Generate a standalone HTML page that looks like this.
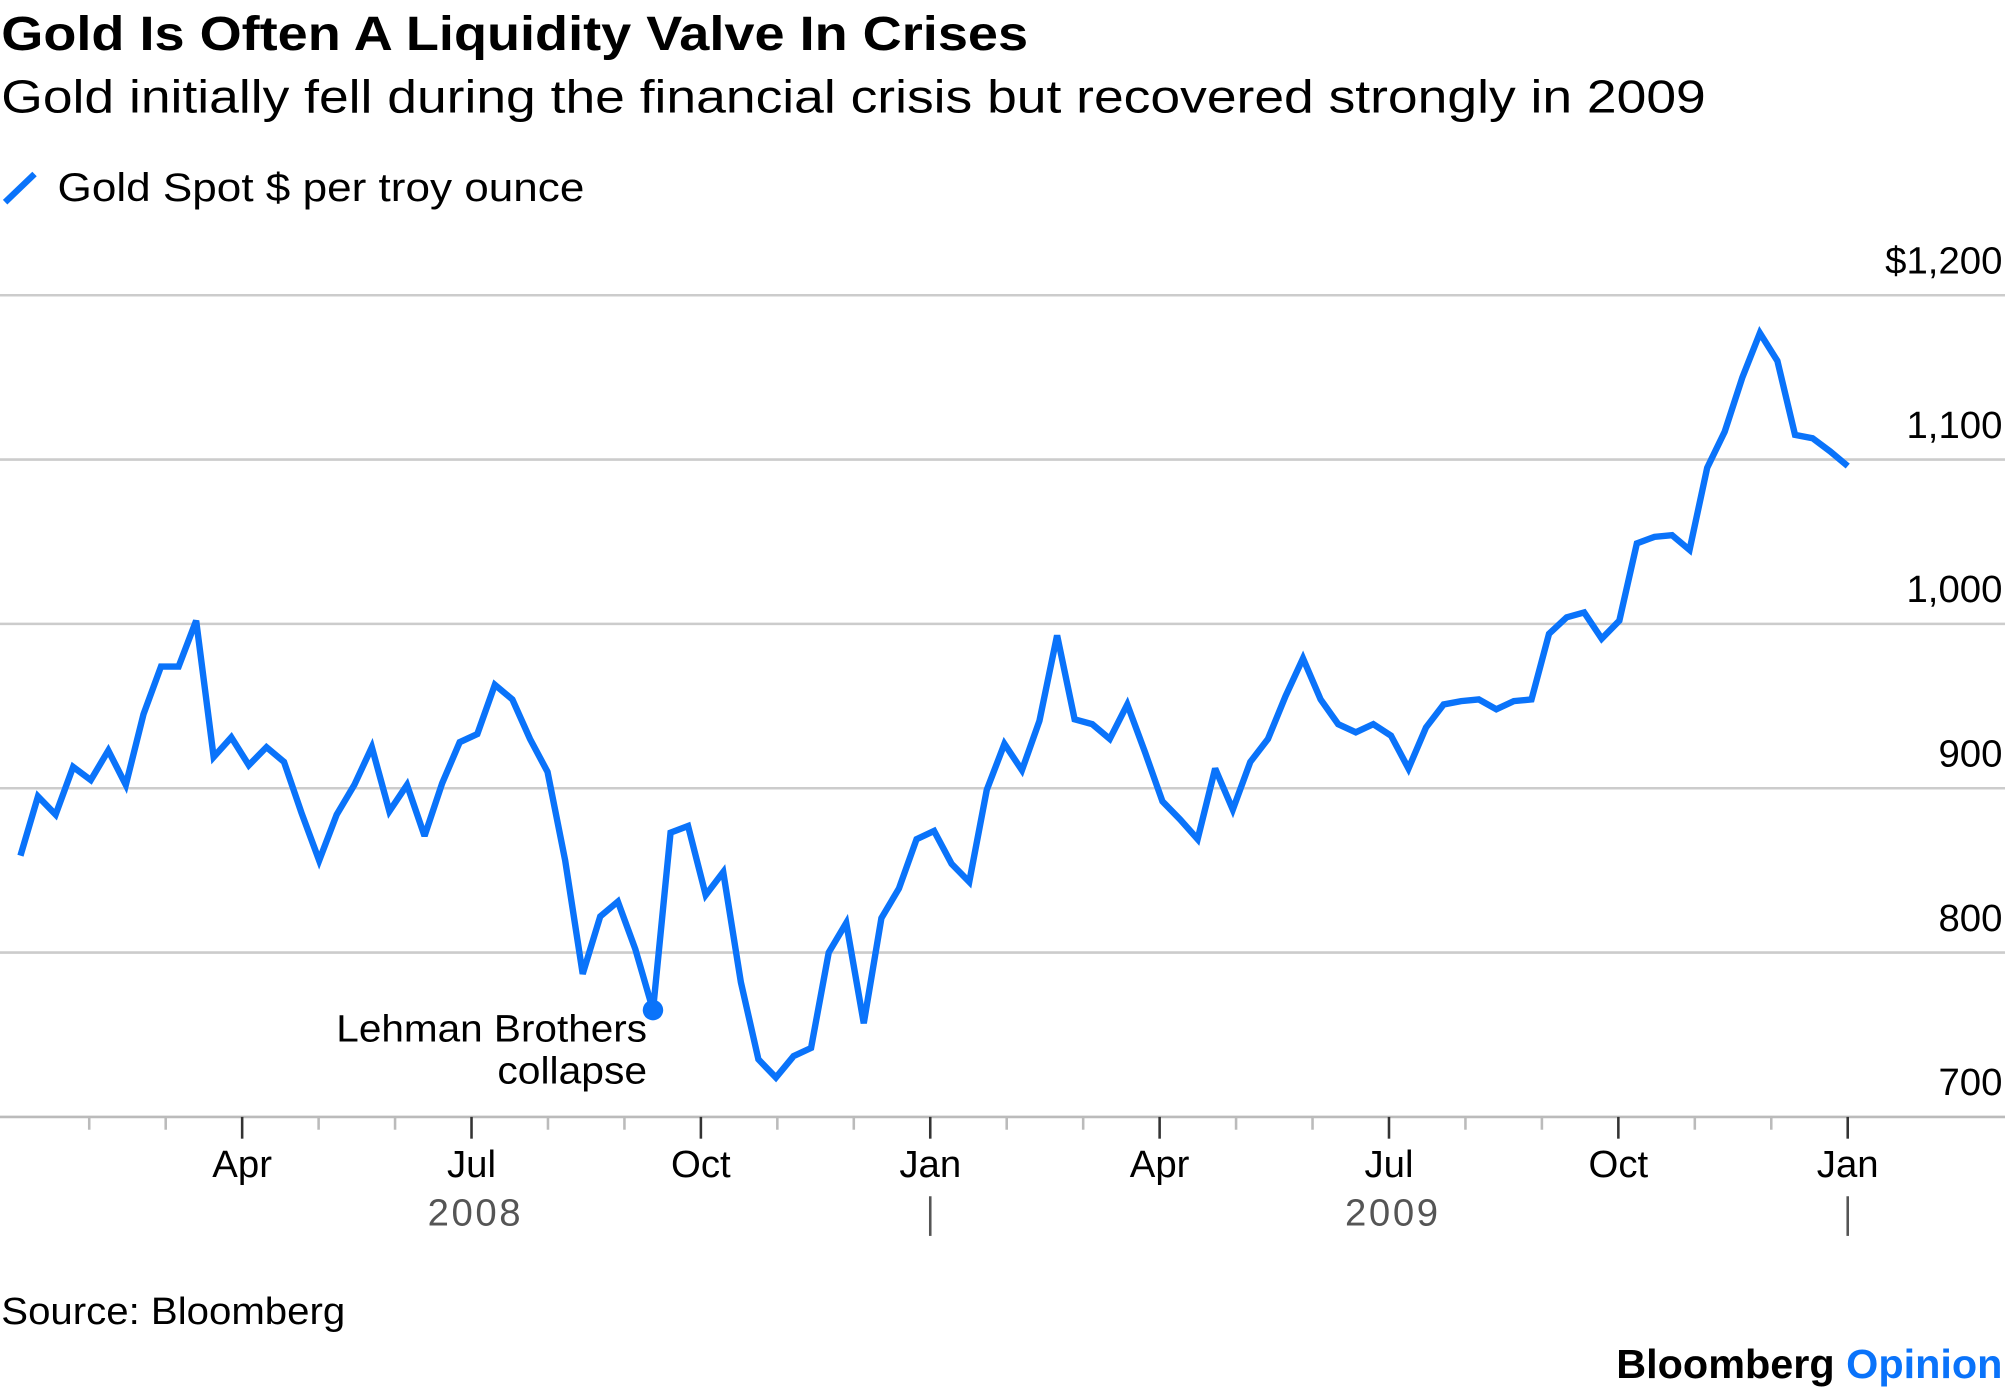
<!DOCTYPE html>
<html><head><meta charset="utf-8"><title>Gold Is Often A Liquidity Valve In Crises</title>
<style>html,body{margin:0;padding:0;background:#fff;}svg{display:block;font-family:"Liberation Sans",sans-serif;}</style>
</head><body>
<svg id="chart" width="2005" height="1392" viewBox="0 0 1568 1088" preserveAspectRatio="none" xmlns="http://www.w3.org/2000/svg">
<text x="1" y="39" font-size="38" font-weight="bold" fill="#000" textLength="803" lengthAdjust="spacingAndGlyphs">Gold Is Often A Liquidity Valve In Crises</text>
<text x="1" y="88" font-size="36" fill="#000" textLength="1333" lengthAdjust="spacingAndGlyphs">Gold initially fell during the financial crisis but recovered strongly in 2009</text>
<g>
<line x1="4" y1="158" x2="27" y2="136" stroke="#0a73fa" stroke-width="5"/>
<text x="45" y="157" font-size="31" fill="#000" textLength="412" lengthAdjust="spacingAndGlyphs">Gold Spot $ per troy ounce</text>
</g>
<g id="grid"></g>
<g id="yaxis"></g>
<g id="xaxis"></g>
<g id="series"></g>
<text x="506" y="814" font-size="30" text-anchor="end" fill="#000" textLength="243" lengthAdjust="spacingAndGlyphs">Lehman Brothers</text>
<text x="506" y="847" font-size="30" text-anchor="end" fill="#000" textLength="117" lengthAdjust="spacingAndGlyphs">collapse</text>
<text x="1" y="1035" font-size="30" fill="#000" textLength="269" lengthAdjust="spacingAndGlyphs">Source: Bloomberg</text>
<text x="1566" y="1077" font-size="32" text-anchor="end" font-weight="bold" fill="#000" textLength="302" lengthAdjust="spacingAndGlyphs">Bloomberg <tspan fill="#0a73fa">Opinion</tspan></text>
</svg>
<script>
const prices = [859,895,884,913,905,923,902,945,974,974,1002,919,931,914,925,916,885,856,884,902,925,886,902,871,903,928,933,963,954,930,910,856,787,822,831,802,765,873,877,835,849,782,735,724,737,742,800,818,757,821,839,869,874,854,843,899,927,911,941,993,942,939,930,951,922,892,881,869,912,887,916,930,956,979,954,939,934,939,932,912,937,951,953,954,948,953,954,994,1004,1007,991,1002,1049,1053,1054,1045,1095,1117,1150,1177,1160,1115,1113,1105,1096];
const lehmanIndex = 36;
const yTicks = [700,800,900,1000,1100,1200];
const yTickLabels = ["700","800","900","1,000","1,100","$1,200"];
const monthLabels = ["Apr","Jul","Oct","Jan","Apr","Jul","Oct","Jan"];
const monthLabelIdx = [3,6,9,12,15,18,21,24];
const yearLabels = ["2008","2009"];

const NS = "http://www.w3.org/2000/svg";
const x0 = 16, x1 = 1445;
const yScale = v => 873 - (v - 700) * 1.2845;
const xIndex = i => x0 + (x1 - x0) * i / (prices.length - 1);
const monthX = m => 10 + m * (1445 - 10) / 24;
function mk(tag, attrs, parent){const e=document.createElementNS(NS,tag);for(const k in attrs)e.setAttribute(k,attrs[k]);parent.appendChild(e);return e;}

const grid = document.getElementById('grid'), yaxis = document.getElementById('yaxis');
yTicks.forEach((t,i)=>{
  if(i>0){const l=mk('line',{x1:0,x2:1568,y1:yScale(t),y2:yScale(t),stroke:'#cccccc','stroke-width':2},grid);
  
  }
  const tx=mk('text',{x:1566,y:yScale(t)-17,'font-size':30,'text-anchor':'end',fill:'#000'},yaxis);
  tx.textContent=yTickLabels[i];
  
  
});
const xaxis = document.getElementById('xaxis');
const base = mk('line',{x1:0,x2:1568,y1:873,y2:873,stroke:'#bbbbbb','stroke-width':2},xaxis);


for(let m=1;m<=24;m++){
  const major = m%3===0;
  const t=mk('line',{x1:monthX(m),x2:monthX(m),y1:873,y2:major?890:883,stroke:major?'#333':'#bbb','stroke-width':2},xaxis);
  
  
}
monthLabels.forEach((lab,i)=>{
  const t=mk('text',{x:monthX(monthLabelIdx[i]),y:920,'font-size':30,'text-anchor':'middle',fill:'#000'},xaxis);
  t.textContent=lab;
  
  
});
yearLabels.forEach((lab,i)=>{
  const t=mk('text',{x:monthX(6+12*i)+3,y:958,'font-size':30,'text-anchor':'middle',fill:'#555','letter-spacing':2},xaxis);
  t.textContent=lab;
  
  
  const s=mk('line',{x1:monthX(12+12*i),x2:monthX(12+12*i),y1:935,y2:966,stroke:'#555','stroke-width':2},xaxis);
  
  
});
const series = document.getElementById('series');
const pts = prices.map((v,i)=>xIndex(i).toFixed(1)+','+yScale(v).toFixed(1)).join(' ');
const pl = mk('polyline',{points:pts,fill:'none',stroke:'#0a73fa','stroke-width':5,'stroke-linejoin':'miter','stroke-miterlimit':3},series);


const dot = mk('circle',{cx:xIndex(lehmanIndex),cy:yScale(prices[lehmanIndex]),r:8,fill:'#0a73fa'},series);


</script>
</body></html>
